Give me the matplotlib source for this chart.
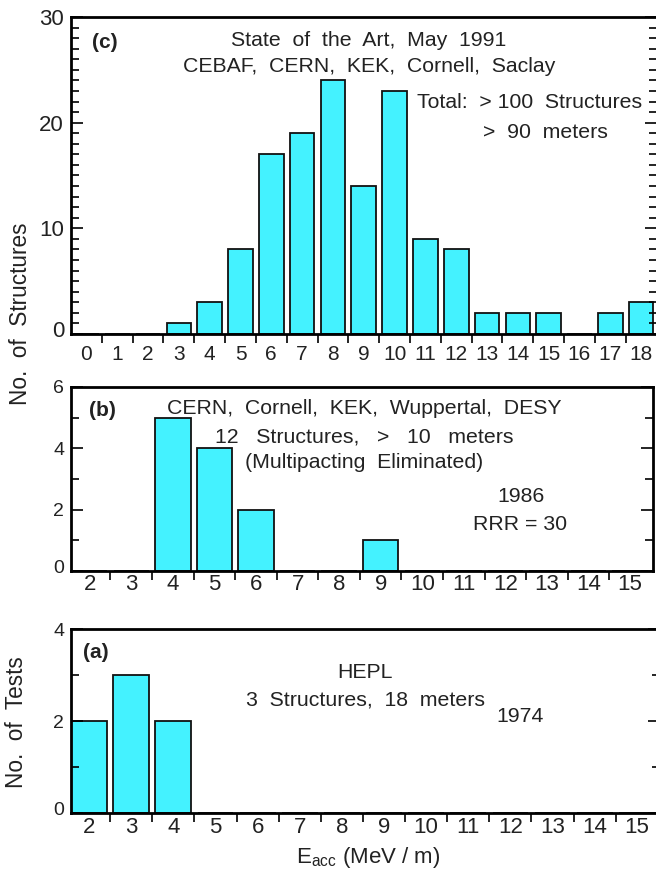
import matplotlib
matplotlib.use("Agg")
import matplotlib.pyplot as plt
from matplotlib.ticker import MultipleLocator, FixedLocator, NullFormatter
from matplotlib.transforms import ScaledTranslation
from matplotlib import font_manager

# ---- data ---------------------------------------------------------------
c_fields = list(range(0, 19))
c_counts = [0, 0, 0, 1, 3, 8, 17, 19, 24, 14, 23, 9, 8, 2, 2, 2, 0, 2, 3]

b_fields = list(range(2, 16))
b_counts = [0, 0, 5, 4, 2, 0, 0, 1, 0, 0, 0, 0, 0, 0]

a_fields = list(range(2, 16))
a_counts = [2, 3, 2, 0, 0, 0, 0, 0, 0, 0, 0, 0, 0, 0]

# ---- style --------------------------------------------------------------
names = {f.name for f in font_manager.fontManager.ttflist}
NARROW = "Liberation Sans Narrow" if "Liberation Sans Narrow" in names else "Liberation Sans"
plt.rcParams["font.family"] = [NARROW, "DejaVu Sans"]
plt.rcParams["mathtext.fontset"] = "custom"
plt.rcParams["mathtext.rm"] = NARROW
plt.rcParams["mathtext.it"] = NARROW

BAR = "#44F2FF"
TXT = 15.3
W, H = 656, 881

fig = plt.figure(figsize=(W / 100, H / 100), dpi=100)


def px_axes(left, top, right, bottom):
    return fig.add_axes([left / W, 1 - bottom / H, (right - left) / W, (bottom - top) / H])


def ftext(x, y, s, **kw):
    kw.setdefault("ha", "center")
    kw.setdefault("va", "center")
    kw.setdefault("color", "#222222")
    kw.setdefault("fontsize", TXT)
    return fig.text(x / W, 1 - y / H, s, **kw)


def style_axes(ax, xlim, ylim, ymajor, yminor, xlab_size, ylab_size, xpad):
    ax.set_xlim(*xlim)
    ax.set_ylim(*ylim)
    for sp in ax.spines.values():
        sp.set_linewidth(2.0)
    # integer labels centred under the bars, tick marks between bars
    lo = int(round(xlim[0] + 0.5))
    hi = int(round(xlim[1] - 0.5))
    ax.xaxis.set_major_locator(FixedLocator(list(range(lo, hi + 1))))
    ax.xaxis.set_minor_locator(FixedLocator([v + 0.5 for v in range(lo, hi)]))
    ax.tick_params(axis="x", which="major", length=0, pad=xpad,
                   labelsize=xlab_size, labelcolor="#222222")
    ax.tick_params(axis="x", which="minor", direction="out", length=6.5, width=1.2)
    ax.yaxis.set_major_locator(MultipleLocator(ymajor))
    ax.yaxis.set_minor_locator(MultipleLocator(yminor))
    ax.yaxis.set_minor_formatter(NullFormatter())
    ax.tick_params(axis="y", which="both", direction="in", left=True, right=True, width=1.2)
    ax.tick_params(axis="y", which="major", length=8.5, pad=5,
                   labelsize=ylab_size, labelcolor="#222222")
    ax.tick_params(axis="y", which="minor", length=6)
    fig.canvas.draw()
    # the zero label sits a little above the baseline
    for lab in ax.get_yticklabels():
        if lab.get_text() in ("0", "\u22120"):
            lab.set_transform(lab.get_transform() +
                              ScaledTranslation(0, 4.5 / 100, fig.dpi_scale_trans))


# ---- panel (c) ----------------------------------------------------------
ax_c = px_axes(71, 17, 656.5, 334)
ax_c.bar(c_fields, c_counts, width=0.8, color=BAR, edgecolor="#111111", linewidth=1.3)
style_axes(ax_c, (-0.5, 18.5), (0, 30), 10, 1, 15, 16, 8)

ftext(105, 43, "(c)", fontweight="bold", family="Liberation Sans", fontsize=15)
ftext(369, 40, "State  of  the  Art,  May  1991")
ftext(369, 67, "CEBAF,  CERN,  KEK,  Cornell,  Saclay")
ftext(417, 103, "Total:  > 100  Structures", ha="left")
ftext(483, 133, ">  90  meters", ha="left")

# ---- panel (b) ----------------------------------------------------------
ax_b = px_axes(71, 387, 653, 571)
ax_b.bar(b_fields, b_counts, width=0.85, color=BAR, edgecolor="#111111", linewidth=1.3)
style_axes(ax_b, (1.55, 15.55), (0, 6), 2, 1, 16, 14, 2)

ftext(102, 410, "(b)", fontweight="bold", family="Liberation Sans", fontsize=15)
ftext(364, 408, "CERN,  Cornell,  KEK,  Wuppertal,  DESY")
ftext(364, 437, "12   Structures,   >   10   meters")
ftext(364, 463, "(Multipacting  Eliminated)")
ftext(521, 497, "1986")
ftext(520, 525, "RRR = 30")

# ---- panel (a) ----------------------------------------------------------
ax_a = px_axes(71, 629, 660, 813)
ax_a.bar(a_fields, a_counts, width=0.85, color=BAR, edgecolor="#111111", linewidth=1.3)
style_axes(ax_a, (1.57, 15.55), (0, 4), 2, 1, 16, 14, 3)

ftext(96, 653, "(a)", fontweight="bold", family="Liberation Sans", fontsize=15)
ftext(365, 672, "HEPL")
ftext(365, 700, "3  Structures,  18  meters")
ftext(520, 717, "1974")

# ---- axis titles --------------------------------------------------------
ftext(21, 314, "No.  of  Structures", rotation=90, fontsize=16.3)
ftext(17, 722, "No.  of  Tests", rotation=90, fontsize=16.3)
ftext(368, 858, r"$\mathregular{E_{acc}}$ (MeV / m)", fontsize=16)

fig.savefig("out.png", dpi=100)
